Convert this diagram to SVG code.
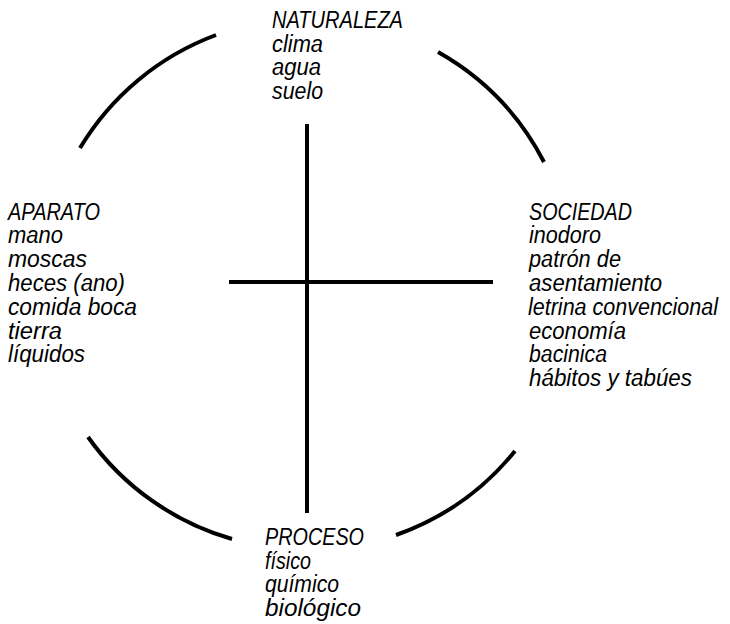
<svg xmlns="http://www.w3.org/2000/svg" width="730" height="624" viewBox="0 0 730 624">
  <style>
    .t { font-family: "Liberation Sans", Arial, sans-serif; font-style: italic; font-size: 23px; fill: #000; }
    .ln { stroke: #000; stroke-width: 4; fill: none; stroke-linecap: butt; }
  </style>
  <rect width="730" height="624" fill="#fff"/>
  <g id="connectors">
    <path class="ln" d="M 80 148 A 267 267 0 0 1 216 35"/>
    <path class="ln" d="M 438 52 A 267 267 0 0 1 544 162"/>
    <path class="ln" d="M 515 451 A 267 267 0 0 1 396 535"/>
    <path class="ln" d="M 232 539 A 267 267 0 0 1 88 437"/>
    <line class="ln" x1="307" y1="124" x2="307" y2="513"/>
    <line class="ln" x1="229" y1="282" x2="493" y2="282"/>
  </g>
  <g id="naturaleza">
    <text class="t" x="272" y="28" textLength="131" lengthAdjust="spacingAndGlyphs">NATURALEZA</text>
    <text class="t" x="272" y="51.5" textLength="51" lengthAdjust="spacingAndGlyphs">clima</text>
    <text class="t" x="272" y="75" textLength="49" lengthAdjust="spacingAndGlyphs">agua</text>
    <text class="t" x="272" y="98.5" textLength="51" lengthAdjust="spacingAndGlyphs">suelo</text>
  </g>
  <g id="aparato">
    <text class="t" x="8" y="219.5" textLength="92" lengthAdjust="spacingAndGlyphs">APARATO</text>
    <text class="t" x="8" y="243.3" textLength="55" lengthAdjust="spacingAndGlyphs">mano</text>
    <text class="t" x="8" y="267.1" textLength="79" lengthAdjust="spacingAndGlyphs">moscas</text>
    <text class="t" x="8" y="290.9" textLength="117" lengthAdjust="spacingAndGlyphs">heces (ano)</text>
    <text class="t" x="8" y="314.7" textLength="129" lengthAdjust="spacingAndGlyphs">comida boca</text>
    <text class="t" x="8" y="338.5" textLength="54" lengthAdjust="spacingAndGlyphs">tierra</text>
    <text class="t" x="8" y="362.3" textLength="77" lengthAdjust="spacingAndGlyphs">líquidos</text>
  </g>
  <g id="sociedad">
    <text class="t" x="529" y="219.5" textLength="103" lengthAdjust="spacingAndGlyphs">SOCIEDAD</text>
    <text class="t" x="529" y="243.3" textLength="72" lengthAdjust="spacingAndGlyphs">inodoro</text>
    <text class="t" x="529" y="267.1" textLength="92" lengthAdjust="spacingAndGlyphs">patrón de</text>
    <text class="t" x="529" y="290.9" textLength="133" lengthAdjust="spacingAndGlyphs">asentamiento</text>
    <text class="t" x="528" y="314.7" textLength="190" lengthAdjust="spacingAndGlyphs">letrina convencional</text>
    <text class="t" x="529" y="338.5" textLength="97" lengthAdjust="spacingAndGlyphs">economía</text>
    <text class="t" x="529" y="362.3" textLength="78" lengthAdjust="spacingAndGlyphs">bacinica</text>
    <text class="t" x="529" y="386.1" textLength="163" lengthAdjust="spacingAndGlyphs">hábitos y tabúes</text>
  </g>
  <g id="proceso">
    <text class="t" x="265" y="545" textLength="99" lengthAdjust="spacingAndGlyphs">PROCESO</text>
    <text class="t" x="265" y="568.5" textLength="46" lengthAdjust="spacingAndGlyphs">físico</text>
    <text class="t" x="265" y="592" textLength="74" lengthAdjust="spacingAndGlyphs">químico</text>
    <text class="t" x="265" y="615.5" textLength="96" lengthAdjust="spacingAndGlyphs">biológico</text>
  </g>
</svg>
